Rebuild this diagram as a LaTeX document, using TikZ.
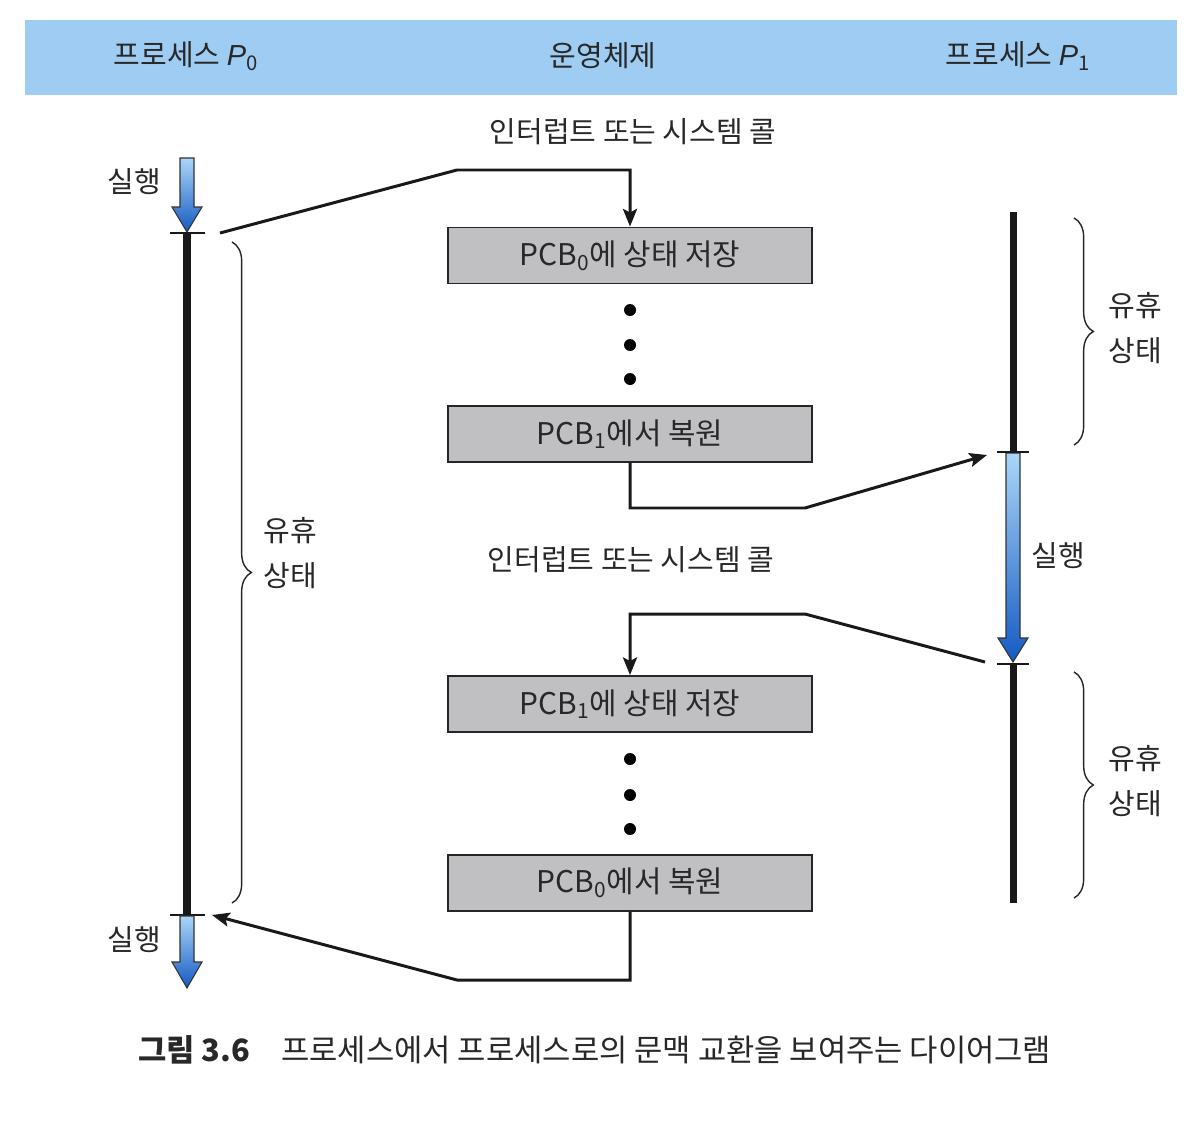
\documentclass[tikz,border=0pt]{standalone}
\usepackage{fontspec}
\setmainfont{Noto Sans CJK KR}
\newfontfamily\latf{Liberation Sans}
\usetikzlibrary{arrows.meta,decorations.pathreplacing}
\definecolor{hdrblue}{RGB}{158,204,242}
\definecolor{boxgray}{RGB}{192,192,194}
\definecolor{txtc}{RGB}{40,40,40}
\definecolor{arrlight}{RGB}{170,214,248}
\definecolor{arrdark}{RGB}{20,90,195}
\begin{document}
\begin{tikzpicture}[x=0.02cm,y=-0.02cm,
  lbl/.style={font=\fontsize{16.5}{25.5}\selectfont, text=txtc, inner sep=0pt, align=center},
  hdrtxt/.style={font=\fontsize{16.5}{20}\selectfont, text=txtc, inner sep=0pt},
  pcbbox/.style={draw=black!85, line width=1.1pt, fill=boxgray, minimum width=7.28cm, minimum height=1.12cm, inner sep=0pt, font=\fontsize{17}{20}\selectfont, text=txtc},
  conn/.style={line width=1.7pt, black!90},
  tipconn/.style={conn, -{Stealth[length=10pt,width=8pt,inset=2pt]}},
  timeline/.style={line width=4pt, black!90},
  tickmark/.style={line width=0.9pt, black!90},
  bluearr/.style={top color=arrlight, bottom color=arrdark, draw=black!80, line width=0.6pt},
  dotc/.style={circle, fill=black, inner sep=0pt, minimum size=0.24cm},
  bracec/.style={decorate, decoration={brace, amplitude=11pt}, line width=0.8pt, black!85}
]
\useasboundingbox (0,0) rectangle (1196,1122);

% header
\fill[hdrblue] (25,20) rectangle (1177,95);
\node[hdrtxt] (hp0) at (186,56) {프로세스 {\latf\itshape P}\textsubscript{0}};
\node[hdrtxt] (hos) at (603,56) {운영체제};
\node[hdrtxt] (hp1) at (1018,56) {프로세스 {\latf\itshape P}\textsubscript{1}};

% labels
\node[lbl] (irq1) at (633,132) {인터럽트 또는 시스템 콜};
\node[lbl] (irq2) at (631,560) {인터럽트 또는 시스템 콜};

% boxes
\node[pcbbox] (box1) at (630,255.5) {PCB\textsubscript{0}에 상태 저장};
\node[pcbbox] (box2) at (630,434) {PCB\textsubscript{1}에서 복원};
\node[pcbbox] (box3) at (630,704) {PCB\textsubscript{1}에 상태 저장};
\node[pcbbox] (box4) at (630,883) {PCB\textsubscript{0}에서 복원};

% dots
\node[dotc] (d1) at (630,310) {};
\node[dotc] (d2) at (630,345) {};
\node[dotc] (d3) at (630,379) {};
\node[dotc] (d4) at (630,759) {};
\node[dotc] (d5) at (630,795) {};
\node[dotc] (d6) at (630,829) {};

% P0 timeline
\draw[bluearr] (180,158) -- (194,158) -- (194,207) -- (202,207) -- (187,232) -- (172,207) -- (180,207) -- cycle;
\draw[timeline] (187,233) -- (187,915);
\draw[tickmark] (170,233) -- (205,233);
\draw[tickmark] (170,915) -- (205,915);
\draw[bluearr] (180,916) -- (194,916) -- (194,962) -- (202,962) -- (187,988) -- (172,962) -- (180,962) -- cycle;
\node[lbl] (run0a) at (134,182) {실행};
\node[lbl] (run0b) at (134,940) {실행};

% P1 timeline
\draw[timeline] (1013,212) -- (1013,452);
\draw[bluearr] (1006,453) -- (1020,453) -- (1020,638) -- (1028,638) -- (1013,662) -- (998,638) -- (1006,638) -- cycle;
\draw[tickmark] (997,452) -- (1029,452);
\draw[tickmark] (997,664) -- (1029,664);
\draw[timeline] (1013,664) -- (1013,903);
\node[lbl] (run1) at (1058,556) {실행};

% braces
\draw[bracec] (232,242) -- (232,903);
\draw[bracec] (1074,218) -- (1074,445);
\draw[bracec] (1074,672) -- (1074,898);
\node[lbl] (idle0) at (290,553) {유휴\\상태};
\node[lbl] (idle1a) at (1135,328) {유휴\\상태};
\node[lbl] (idle1b) at (1135,781) {유휴\\상태};

% connector coordinates
\coordinate (s0) at (220,233);
\coordinate (c1) at (457,170);
\coordinate (c2) at (805,508);
\coordinate (e1) at (987,455);
\coordinate (s1) at (985,662);
\coordinate (c3) at (805,614);
\coordinate (c4) at (457,980);
\coordinate (e0) at (212,915);

\draw[tipconn] (s0) -- (c1) -| (box1.north);
\draw[tipconn] (box2.south) |- (c2) -- (e1);
\draw[tipconn] (s1) -- (c3) -| (box3.north);
\draw[tipconn] (box4.south) |- (c4) -- (e0);

% caption
\node[anchor=west, inner sep=0pt, text=txtc, font=\fontsize{17.5}{20}\selectfont\bfseries] (capa) at (138,1050) {그림 3.6};
\node[anchor=west, inner sep=0pt, text=txtc, font=\fontsize{17.5}{20}\selectfont] (capb) at (281,1050) {프로세스에서 프로세스로의 문맥 교환을 보여주는 다이어그램};
\end{tikzpicture}
\end{document}
